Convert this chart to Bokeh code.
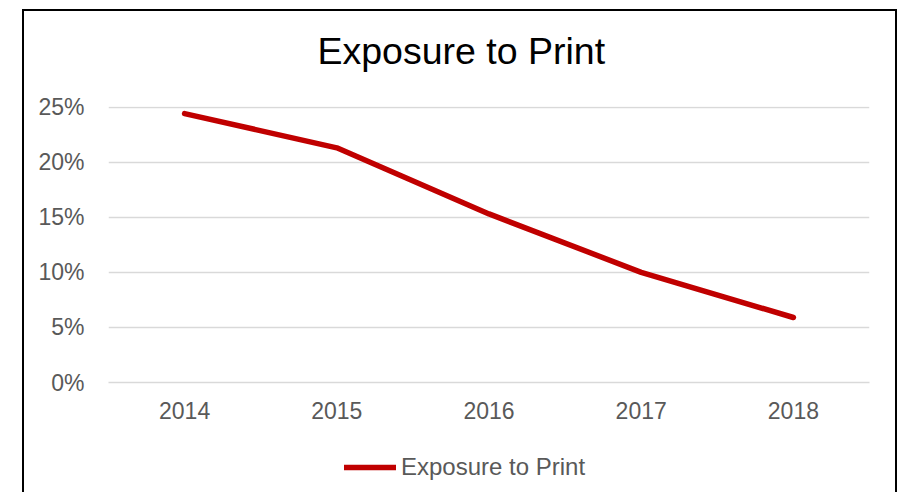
from bokeh.plotting import figure
from bokeh.layouts import column
from bokeh.models import Range1d, NumeralTickFormatter, FixedTicker, Title, Legend, LegendItem
from bokeh.embed import file_html
from bokeh.resources import INLINE

years = ["2014", "2015", "2016", "2017", "2018"]
exposure = [0.244, 0.213, 0.153, 0.100, 0.059]
y_ticks = [0.0, 0.05, 0.10, 0.15, 0.20, 0.25]
series_name = "Exposure to Print"
title_text = "Exposure to Print"

FONT = "Liberation Sans"
GREY = "#595959"
RED = "#C00000"

p = figure(width=875, height=421, x_range=years, y_range=Range1d(0, 0.2505),
           output_backend="svg", toolbar_location=None, title=None,
           min_border_left=84, min_border_right=30, min_border_top=95, min_border_bottom=50)
p.styles = {"border-top": "2px solid black", "border-left": "2px solid black",
            "border-right": "2px solid black"}
p.outline_line_color = None
p.x_range.range_padding = 0

r = p.line(x=years, y=exposure, line_color=RED, line_width=5.5,
           line_cap="round", line_join="round")

p.yaxis.ticker = FixedTicker(ticks=y_ticks)
p.yaxis.formatter = NumeralTickFormatter(format="0%")
p.yaxis.axis_line_color = None
p.yaxis.major_tick_line_color = None
p.yaxis.minor_tick_line_color = None
p.yaxis.major_label_standoff = 18
p.xaxis.axis_line_color = "#d9d9d9"
p.xaxis.axis_line_width = 1.5
p.xaxis.major_tick_line_color = None
p.xaxis.minor_tick_line_color = None
p.xaxis.major_label_standoff = 13
for ax in (p.xaxis, p.yaxis):
    ax.major_label_text_font = FONT
    ax.major_label_text_font_size = "23px"
    ax.major_label_text_color = GREY

p.xgrid.grid_line_color = None
p.ygrid.grid_line_color = "#d9d9d9"
p.ygrid.grid_line_width = 1.5
p.ygrid.ticker = FixedTicker(ticks=y_ticks)

# spacer panel between frame and title (closest to frame)
spacer = Title(text=" ", text_font=FONT, text_font_size="10px", standoff=22)
p.add_layout(spacer, "above")
title = Title(text=title_text, text_font=FONT, text_font_size="37.5px", text_color="black",
              text_font_style="normal", align="left", offset=209, standoff=0,
              vertical_align="bottom")
p.add_layout(title, "above")

# legend strip below the chart (same series, drawn outside this strip's visible range)
p2 = figure(width=875, height=80, x_range=years, y_range=Range1d(1, 2),
            output_backend="svg", toolbar_location=None, title=None,
            x_axis_type=None, y_axis_type=None, min_border=0)
p2.styles = {"border-left": "2px solid black", "border-right": "2px solid black"}
p2.outline_line_color = None
p2.xgrid.visible = False
p2.ygrid.visible = False
r2 = p2.line(x=years, y=exposure, line_color=RED, line_width=5.5, line_cap="round")

legend = Legend(items=[LegendItem(label=series_name, renderers=[r2])],
                location=(236, 29), orientation="horizontal",
                glyph_width=52, glyph_height=24, label_standoff=5,
                label_text_font=FONT, label_text_font_size="24px", label_text_color=GREY,
                border_line_color=None, background_fill_alpha=0,
                padding=0, margin=0, spacing=0)
p2.add_layout(legend, "center")

layout = column(p, p2, spacing=0)
layout.margin = (9, 0, 0, 22)

open("out.html", "w").write(file_html(layout, INLINE))
